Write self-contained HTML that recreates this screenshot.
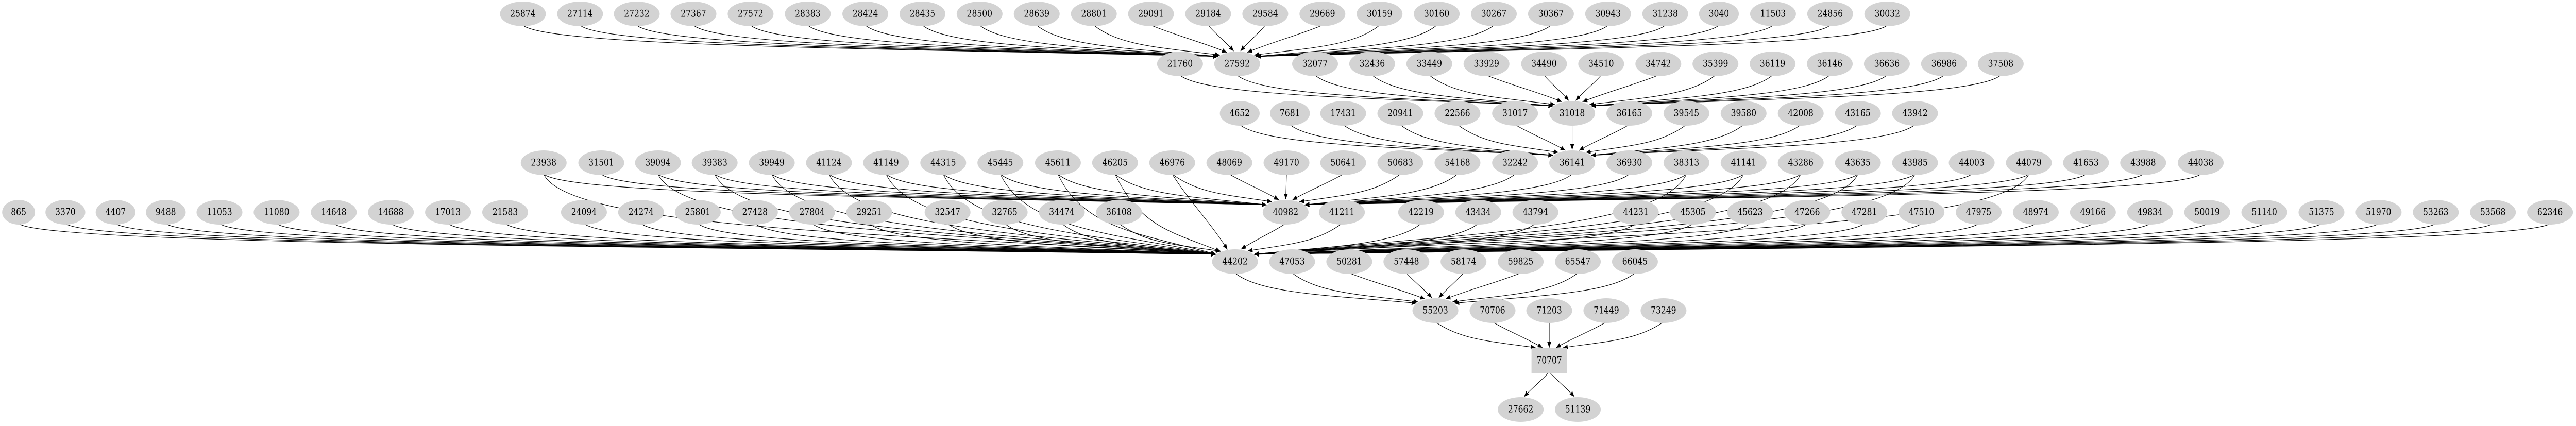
<!DOCTYPE html>
<html><head><meta charset="utf-8">
<meta name="viewport" content="width=5951">
<style>
html,body{margin:0;padding:0;background:#fff;overflow:hidden;}
svg{display:block;width:100vw;height:100vh;}
text{font-family:"DejaVu Serif","Liberation Serif",serif;font-size:18.5px;fill:#000;text-anchor:middle;dominant-baseline:central;}
.n{fill:#d3d3d3;stroke:none;}
</style></head>
<body>
<svg id="g" xmlns="http://www.w3.org/2000/svg" viewBox="0 0 5951 827" preserveAspectRatio="none">
<defs><marker id="a" markerUnits="userSpaceOnUse" markerWidth="12" markerHeight="10" refX="11" refY="4.5" orient="auto"><path d="M0,0 L11,4.5 L0,9 Z" fill="#000"/></marker></defs>
<g id="edges" fill="none" stroke="#000" stroke-width="1.1"></g>
<g id="nodes">
<ellipse class="n" cx="1208" cy="27" rx="53" ry="24"/><text x="1208" y="27">25874</text>
<ellipse class="n" cx="1340" cy="27" rx="53" ry="24"/><text x="1340" y="27">27114</text>
<ellipse class="n" cx="1471" cy="27" rx="53" ry="24"/><text x="1471" y="27">27232</text>
<ellipse class="n" cx="1602" cy="27" rx="53" ry="24"/><text x="1602" y="27">27367</text>
<ellipse class="n" cx="1734" cy="27" rx="53" ry="24"/><text x="1734" y="27">27572</text>
<ellipse class="n" cx="1866" cy="27" rx="53" ry="24"/><text x="1866" y="27">28383</text>
<ellipse class="n" cx="1999" cy="27" rx="53" ry="24"/><text x="1999" y="27">28424</text>
<ellipse class="n" cx="2131" cy="27" rx="53" ry="24"/><text x="2131" y="27">28435</text>
<ellipse class="n" cx="2263" cy="27" rx="53" ry="24"/><text x="2263" y="27">28500</text>
<ellipse class="n" cx="2395" cy="27" rx="53" ry="24"/><text x="2395" y="27">28639</text>
<ellipse class="n" cx="2527" cy="27" rx="53" ry="24"/><text x="2527" y="27">28801</text>
<ellipse class="n" cx="2659" cy="27" rx="53" ry="24"/><text x="2659" y="27">29091</text>
<ellipse class="n" cx="2791" cy="27" rx="53" ry="24"/><text x="2791" y="27">29184</text>
<ellipse class="n" cx="2923" cy="27" rx="53" ry="24"/><text x="2923" y="27">29584</text>
<ellipse class="n" cx="3055" cy="27" rx="53" ry="24"/><text x="3055" y="27">29669</text>
<ellipse class="n" cx="3187" cy="27" rx="53" ry="24"/><text x="3187" y="27">30159</text>
<ellipse class="n" cx="3319" cy="27" rx="53" ry="24"/><text x="3319" y="27">30160</text>
<ellipse class="n" cx="3451" cy="27" rx="53" ry="24"/><text x="3451" y="27">30267</text>
<ellipse class="n" cx="3583" cy="27" rx="53" ry="24"/><text x="3583" y="27">30367</text>
<ellipse class="n" cx="3715" cy="27" rx="53" ry="24"/><text x="3715" y="27">30943</text>
<ellipse class="n" cx="3847" cy="27" rx="53" ry="24"/><text x="3847" y="27">31238</text>
<ellipse class="n" cx="3971" cy="27" rx="46" ry="24"/><text x="3971" y="27">3040</text>
<ellipse class="n" cx="4096" cy="27" rx="53" ry="24"/><text x="4096" y="27">11503</text>
<ellipse class="n" cx="4228" cy="27" rx="53" ry="24"/><text x="4228" y="27">24856</text>
<ellipse class="n" cx="4360" cy="27" rx="53" ry="24"/><text x="4360" y="27">30032</text>
<ellipse class="n" cx="2726" cy="124" rx="53" ry="24"/><text x="2726" y="124">21760</text>
<ellipse class="n" cx="2858" cy="124" rx="53" ry="24"/><text x="2858" y="124">27592</text>
<ellipse class="n" cx="3038" cy="124" rx="53" ry="24"/><text x="3038" y="124">32077</text>
<ellipse class="n" cx="3170" cy="124" rx="53" ry="24"/><text x="3170" y="124">32436</text>
<ellipse class="n" cx="3302" cy="124" rx="53" ry="24"/><text x="3302" y="124">33449</text>
<ellipse class="n" cx="3434" cy="124" rx="53" ry="24"/><text x="3434" y="124">33929</text>
<ellipse class="n" cx="3567" cy="124" rx="53" ry="24"/><text x="3567" y="124">34490</text>
<ellipse class="n" cx="3699" cy="124" rx="53" ry="24"/><text x="3699" y="124">34510</text>
<ellipse class="n" cx="3831" cy="124" rx="53" ry="24"/><text x="3831" y="124">34742</text>
<ellipse class="n" cx="3963" cy="124" rx="53" ry="24"/><text x="3963" y="124">35399</text>
<ellipse class="n" cx="4095" cy="124" rx="53" ry="24"/><text x="4095" y="124">36119</text>
<ellipse class="n" cx="4227" cy="124" rx="53" ry="24"/><text x="4227" y="124">36146</text>
<ellipse class="n" cx="4359" cy="124" rx="53" ry="24"/><text x="4359" y="124">36636</text>
<ellipse class="n" cx="4491" cy="124" rx="53" ry="24"/><text x="4491" y="124">36986</text>
<ellipse class="n" cx="4622" cy="124" rx="53" ry="24"/><text x="4622" y="124">37508</text>
<ellipse class="n" cx="2864" cy="220" rx="46" ry="24"/><text x="2864" y="220">4652</text>
<ellipse class="n" cx="2980" cy="220" rx="46" ry="24"/><text x="2980" y="220">7681</text>
<ellipse class="n" cx="3103" cy="220" rx="53" ry="24"/><text x="3103" y="220">17431</text>
<ellipse class="n" cx="3235" cy="220" rx="53" ry="24"/><text x="3235" y="220">20941</text>
<ellipse class="n" cx="3367" cy="220" rx="53" ry="24"/><text x="3367" y="220">22566</text>
<ellipse class="n" cx="3500" cy="220" rx="53" ry="24"/><text x="3500" y="220">31017</text>
<ellipse class="n" cx="3632" cy="220" rx="53" ry="24"/><text x="3632" y="220">31018</text>
<ellipse class="n" cx="3764" cy="220" rx="53" ry="24"/><text x="3764" y="220">36165</text>
<ellipse class="n" cx="3896" cy="220" rx="53" ry="24"/><text x="3896" y="220">39545</text>
<ellipse class="n" cx="4028" cy="220" rx="53" ry="24"/><text x="4028" y="220">39580</text>
<ellipse class="n" cx="4160" cy="220" rx="53" ry="24"/><text x="4160" y="220">42008</text>
<ellipse class="n" cx="4292" cy="220" rx="53" ry="24"/><text x="4292" y="220">43165</text>
<ellipse class="n" cx="4424" cy="220" rx="53" ry="24"/><text x="4424" y="220">43942</text>
<ellipse class="n" cx="1256" cy="316" rx="53" ry="24"/><text x="1256" y="316">23938</text>
<ellipse class="n" cx="1389" cy="316" rx="53" ry="24"/><text x="1389" y="316">31501</text>
<ellipse class="n" cx="1520" cy="316" rx="53" ry="24"/><text x="1520" y="316">39094</text>
<ellipse class="n" cx="1651" cy="316" rx="53" ry="24"/><text x="1651" y="316">39383</text>
<ellipse class="n" cx="1783" cy="316" rx="53" ry="24"/><text x="1783" y="316">39949</text>
<ellipse class="n" cx="1915" cy="316" rx="53" ry="24"/><text x="1915" y="316">41124</text>
<ellipse class="n" cx="2047" cy="316" rx="53" ry="24"/><text x="2047" y="316">41149</text>
<ellipse class="n" cx="2179" cy="316" rx="53" ry="24"/><text x="2179" y="316">44315</text>
<ellipse class="n" cx="2311" cy="316" rx="53" ry="24"/><text x="2311" y="316">45445</text>
<ellipse class="n" cx="2444" cy="316" rx="53" ry="24"/><text x="2444" y="316">45611</text>
<ellipse class="n" cx="2576" cy="316" rx="53" ry="24"/><text x="2576" y="316">46205</text>
<ellipse class="n" cx="2708" cy="316" rx="53" ry="24"/><text x="2708" y="316">46976</text>
<ellipse class="n" cx="2840" cy="316" rx="53" ry="24"/><text x="2840" y="316">48069</text>
<ellipse class="n" cx="2972" cy="316" rx="53" ry="24"/><text x="2972" y="316">49170</text>
<ellipse class="n" cx="3103" cy="316" rx="53" ry="24"/><text x="3103" y="316">50641</text>
<ellipse class="n" cx="3235" cy="316" rx="53" ry="24"/><text x="3235" y="316">50683</text>
<ellipse class="n" cx="3367" cy="316" rx="53" ry="24"/><text x="3367" y="316">54168</text>
<ellipse class="n" cx="3500" cy="316" rx="53" ry="24"/><text x="3500" y="316">32242</text>
<ellipse class="n" cx="3632" cy="316" rx="53" ry="24"/><text x="3632" y="316">36141</text>
<ellipse class="n" cx="3764" cy="316" rx="53" ry="24"/><text x="3764" y="316">36930</text>
<ellipse class="n" cx="3896" cy="316" rx="53" ry="24"/><text x="3896" y="316">38313</text>
<ellipse class="n" cx="4028" cy="316" rx="53" ry="24"/><text x="4028" y="316">41141</text>
<ellipse class="n" cx="4160" cy="316" rx="53" ry="24"/><text x="4160" y="316">43286</text>
<ellipse class="n" cx="4292" cy="316" rx="53" ry="24"/><text x="4292" y="316">43635</text>
<ellipse class="n" cx="4424" cy="316" rx="53" ry="24"/><text x="4424" y="316">43985</text>
<ellipse class="n" cx="4555" cy="316" rx="53" ry="24"/><text x="4555" y="316">44003</text>
<ellipse class="n" cx="4687" cy="316" rx="53" ry="24"/><text x="4687" y="316">44079</text>
<ellipse class="n" cx="4819" cy="316" rx="53" ry="24"/><text x="4819" y="316">41653</text>
<ellipse class="n" cx="4951" cy="316" rx="53" ry="24"/><text x="4951" y="316">43988</text>
<ellipse class="n" cx="5084" cy="316" rx="53" ry="24"/><text x="5084" y="316">44038</text>
<ellipse class="n" cx="43" cy="412" rx="38" ry="24"/><text x="43" y="412">865</text>
<ellipse class="n" cx="151" cy="412" rx="46" ry="24"/><text x="151" y="412">3370</text>
<ellipse class="n" cx="267" cy="412" rx="46" ry="24"/><text x="267" y="412">4407</text>
<ellipse class="n" cx="383" cy="412" rx="46" ry="24"/><text x="383" y="412">9488</text>
<ellipse class="n" cx="507" cy="412" rx="53" ry="24"/><text x="507" y="412">11053</text>
<ellipse class="n" cx="639" cy="412" rx="53" ry="24"/><text x="639" y="412">11080</text>
<ellipse class="n" cx="771" cy="412" rx="53" ry="24"/><text x="771" y="412">14648</text>
<ellipse class="n" cx="903" cy="412" rx="53" ry="24"/><text x="903" y="412">14688</text>
<ellipse class="n" cx="1035" cy="412" rx="53" ry="24"/><text x="1035" y="412">17013</text>
<ellipse class="n" cx="1167" cy="412" rx="53" ry="24"/><text x="1167" y="412">21583</text>
<ellipse class="n" cx="1349" cy="412" rx="53" ry="24"/><text x="1349" y="412">24094</text>
<ellipse class="n" cx="1481" cy="412" rx="53" ry="24"/><text x="1481" y="412">24274</text>
<ellipse class="n" cx="1612" cy="412" rx="53" ry="24"/><text x="1612" y="412">25801</text>
<ellipse class="n" cx="1744" cy="412" rx="53" ry="24"/><text x="1744" y="412">27428</text>
<ellipse class="n" cx="1876" cy="412" rx="53" ry="24"/><text x="1876" y="412">27804</text>
<ellipse class="n" cx="2008" cy="412" rx="53" ry="24"/><text x="2008" y="412">29251</text>
<ellipse class="n" cx="2189" cy="412" rx="53" ry="24"/><text x="2189" y="412">32547</text>
<ellipse class="n" cx="2321" cy="412" rx="53" ry="24"/><text x="2321" y="412">32765</text>
<ellipse class="n" cx="2453" cy="412" rx="53" ry="24"/><text x="2453" y="412">34474</text>
<ellipse class="n" cx="2585" cy="412" rx="53" ry="24"/><text x="2585" y="412">36108</text>
<ellipse class="n" cx="2970" cy="412" rx="53" ry="24"/><text x="2970" y="412">40982</text>
<ellipse class="n" cx="3100" cy="412" rx="53" ry="24"/><text x="3100" y="412">41211</text>
<ellipse class="n" cx="3283" cy="412" rx="53" ry="24"/><text x="3283" y="412">42219</text>
<ellipse class="n" cx="3415" cy="412" rx="53" ry="24"/><text x="3415" y="412">43434</text>
<ellipse class="n" cx="3547" cy="412" rx="53" ry="24"/><text x="3547" y="412">43794</text>
<ellipse class="n" cx="3779" cy="412" rx="53" ry="24"/><text x="3779" y="412">44231</text>
<ellipse class="n" cx="3911" cy="412" rx="53" ry="24"/><text x="3911" y="412">45305</text>
<ellipse class="n" cx="4043" cy="412" rx="53" ry="24"/><text x="4043" y="412">45623</text>
<ellipse class="n" cx="4175" cy="412" rx="53" ry="24"/><text x="4175" y="412">47266</text>
<ellipse class="n" cx="4307" cy="412" rx="53" ry="24"/><text x="4307" y="412">47281</text>
<ellipse class="n" cx="4439" cy="412" rx="53" ry="24"/><text x="4439" y="412">47510</text>
<ellipse class="n" cx="4571" cy="412" rx="53" ry="24"/><text x="4571" y="412">47975</text>
<ellipse class="n" cx="4703" cy="412" rx="53" ry="24"/><text x="4703" y="412">48974</text>
<ellipse class="n" cx="4835" cy="412" rx="53" ry="24"/><text x="4835" y="412">49166</text>
<ellipse class="n" cx="4967" cy="412" rx="53" ry="24"/><text x="4967" y="412">49834</text>
<ellipse class="n" cx="5099" cy="412" rx="53" ry="24"/><text x="5099" y="412">50019</text>
<ellipse class="n" cx="5231" cy="412" rx="53" ry="24"/><text x="5231" y="412">51140</text>
<ellipse class="n" cx="5363" cy="412" rx="53" ry="24"/><text x="5363" y="412">51375</text>
<ellipse class="n" cx="5495" cy="412" rx="53" ry="24"/><text x="5495" y="412">51970</text>
<ellipse class="n" cx="5627" cy="412" rx="53" ry="24"/><text x="5627" y="412">53263</text>
<ellipse class="n" cx="5759" cy="412" rx="53" ry="24"/><text x="5759" y="412">53568</text>
<ellipse class="n" cx="5891" cy="412" rx="53" ry="24"/><text x="5891" y="412">62346</text>
<ellipse class="n" cx="2853" cy="508" rx="53" ry="24"/><text x="2853" y="508">44202</text>
<ellipse class="n" cx="2985" cy="508" rx="53" ry="24"/><text x="2985" y="508">47053</text>
<ellipse class="n" cx="3117" cy="508" rx="53" ry="24"/><text x="3117" y="508">50281</text>
<ellipse class="n" cx="3249" cy="508" rx="53" ry="24"/><text x="3249" y="508">57448</text>
<ellipse class="n" cx="3381" cy="508" rx="53" ry="24"/><text x="3381" y="508">58174</text>
<ellipse class="n" cx="3513" cy="508" rx="53" ry="24"/><text x="3513" y="508">59825</text>
<ellipse class="n" cx="3645" cy="508" rx="53" ry="24"/><text x="3645" y="508">65547</text>
<ellipse class="n" cx="3777" cy="508" rx="53" ry="24"/><text x="3777" y="508">66045</text>
<ellipse class="n" cx="3316" cy="603" rx="53" ry="24"/><text x="3316" y="603">55203</text>
<ellipse class="n" cx="3448" cy="603" rx="53" ry="24"/><text x="3448" y="603">70706</text>
<ellipse class="n" cx="3579" cy="603" rx="53" ry="24"/><text x="3579" y="603">71203</text>
<ellipse class="n" cx="3711" cy="603" rx="53" ry="24"/><text x="3711" y="603">71449</text>
<ellipse class="n" cx="3843" cy="603" rx="53" ry="24"/><text x="3843" y="603">73249</text>
<rect class="n" x="3538" y="676" width="82" height="48"/><text x="3579" y="700">70707</text>
<ellipse class="n" cx="3513" cy="795" rx="53" ry="24"/><text x="3513" y="795">27662</text>
<ellipse class="n" cx="3645" cy="795" rx="53" ry="24"/><text x="3645" y="795">51139</text>
</g>
</svg>
<script>
(function(){
var P={};
var txt=document.querySelectorAll('#nodes text');
for(var i=0;i<txt.length;i++){P[txt[i].textContent]=[+txt[i].getAttribute('x'),+txt[i].getAttribute('y')];}
var E=[];
function add(list,t){list.split(' ').forEach(function(s){if(s)E.push([s,t]);});}
add('25874 27114 27232 27367 27572 28383 28424 28435 28500 28639 28801 29091 29184 29584 29669 30159 30160 30267 30367 30943 31238 3040 11503 24856 30032','27592');
add('21760 27592 32077 32436 33449 33929 34490 34510 34742 35399 36119 36146 36636 36986 37508','31018');
add('4652 7681 17431 20941 22566 31017 31018 36165 39545 39580 42008 43165 43942','36141');
add('23938 31501 39094 39383 39949 41124 41149 44315 45445 45611 46205 46976 48069 49170 50641 50683 54168 32242 36141 36930 38313 41141 43286 43635 43985 44003 44079 41653 43988 44038','40982');
add('23938 39094 39383 39949 41124 41149 44315 45445 45611 46205 46976 38313 41141 43286 43635 43985 44079','44202');
add('865 3370 4407 9488 11053 11080 14648 14688 17013 21583 24094 24274 25801 27428 27804 29251 32547 32765 34474 36108 40982 41211 42219 43434 43794 44231 45305 45623 47266 47281 47510 47975 48974 49166 49834 50019 51140 51375 51970 53263 53568 62346','44202');
add('44202 47053 50281 57448 58174 59825 65547 66045','55203');
add('55203 70706 71203 71449 73249','70707');
add('70707','27662');add('70707','51139');
var g=document.getElementById('edges'),ns='http://www.w3.org/2000/svg';
E.forEach(function(e){
 var s=P[e[0]],t=P[e[1]];if(!s||!t)return;
 var sx=s[0],sy=s[1]+22,dxAll=s[0]-t[0];
 var off=Math.max(-44,Math.min(44,dxAll*0.12));
 var ex=t[0]+off;
 var r=e[1]==='70707'?24:24*Math.sqrt(Math.max(0,1-Math.pow(off/53,2)));
 var ey=t[1]-r-1;
 var dy=ey-sy, dx=ex-sx;
 var c1x,c1y,c2x,c2y;
 if(Math.abs(dx)<200){c1x=sx+dx*0.3;c1y=sy+dy*0.35;c2x=ex-dx*0.3;c2y=ey-dy*0.35;}
 else{c1x=sx+Math.sign(dx)*60;c1y=sy+dy*0.7;c2x=ex-dx*0.45;c2y=ey-dy*0.25;}
 var p=document.createElementNS(ns,'path');
 p.setAttribute('d','M'+sx+','+sy+' C'+c1x+','+c1y+' '+c2x+','+c2y+' '+ex+','+ey);
 p.setAttribute('marker-end','url(#a)');
 g.appendChild(p);
});
})();
</script>
</body></html>
